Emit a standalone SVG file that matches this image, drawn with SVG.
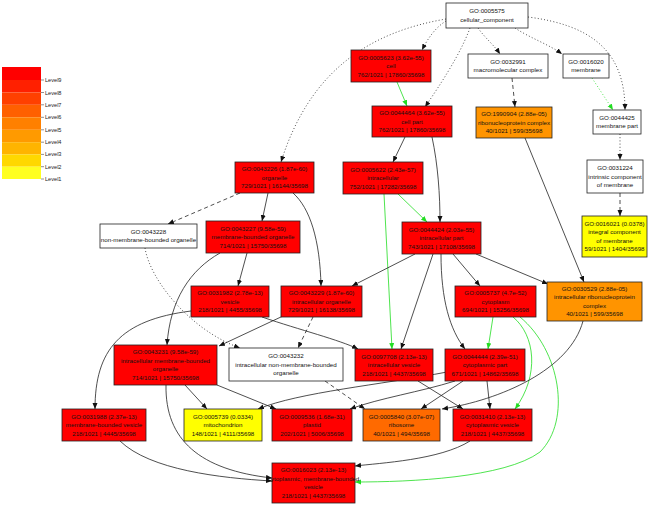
<svg xmlns="http://www.w3.org/2000/svg" width="659" height="507" viewBox="0 0 659 507">
<style>
text{font-family:"Liberation Sans",Arial,sans-serif;font-size:6.2px;fill:#111;text-anchor:middle}
.lg{text-anchor:start;font-size:5.6px;fill:#222}
rect.n{stroke:#222;stroke-width:0.8}
.w{fill:#fff}.r{fill:#ff0000}.o{fill:#ff9400}.o7{fill:#ff6a00}.y{fill:#ffff00}
.e{fill:none;stroke:#222;stroke-width:0.8;marker-end:url(#ab)}
.dt{stroke-dasharray:1 2.2}
.ds{stroke-dasharray:4 3}
.g{fill:none;stroke:#22dd22;stroke-width:0.8;marker-end:url(#ag)}
</style>
<defs>
<marker id="ab" markerUnits="userSpaceOnUse" markerWidth="7" markerHeight="6" refX="6" refY="2.5" orient="auto"><path d="M0,0 L6,2.5 L0,5 z" fill="#111"/></marker>
<marker id="ag" markerUnits="userSpaceOnUse" markerWidth="7" markerHeight="6" refX="6" refY="2.5" orient="auto"><path d="M0,0 L6,2.5 L0,5 z" fill="#22dd22"/></marker>
</defs>
<rect width="659" height="507" fill="#fff"/>
<g id="legend">
<rect x="2" y="67" width="39" height="13" fill="#ff0000"/>
<rect x="2" y="80" width="39" height="12.5" fill="#ff2000"/>
<rect x="2" y="92.5" width="39" height="12.3" fill="#ff4000"/>
<rect x="2" y="104.8" width="39" height="12.5" fill="#ff6000"/>
<rect x="2" y="117.3" width="39" height="12.5" fill="#ff8000"/>
<rect x="2" y="129.8" width="39" height="12.4" fill="#ff9a00"/>
<rect x="2" y="142.2" width="39" height="12.2" fill="#ffb400"/>
<rect x="2" y="154.4" width="39" height="12.3" fill="#ffd800"/>
<rect x="2" y="166.7" width="39" height="12.3" fill="#ffff20"/>
<path d="M41,80H44M41,92.5H44M41,104.8H44M41,117.3H44M41,129.8H44M41,142.2H44M41,154.4H44M41,166.7H44M41,179H44" stroke="#444" stroke-width="0.6"/>
<text class="lg" x="45" y="82">Level9</text>
<text class="lg" x="45" y="94.5">Level8</text>
<text class="lg" x="45" y="106.8">Level7</text>
<text class="lg" x="45" y="119.3">Level6</text>
<text class="lg" x="45" y="131.8">Level5</text>
<text class="lg" x="45" y="144.2">Level4</text>
<text class="lg" x="45" y="156.4">Level3</text>
<text class="lg" x="45" y="168.7">Level2</text>
<text class="lg" x="45" y="181">Level1</text>
</g>
<g id="edges">
<path class="e dt" d="M446,21 C436,27 428,38 422,50"/>
<path class="e dt" d="M446,19 C370,32 310,70 281,162"/>
<path class="e dt" d="M470,28 C460,55 440,85 425,107"/>
<path class="e dt" d="M478,28 C485,38 494,45 500,54"/>
<path class="e dt" d="M515,28 C530,38 550,45 562,54"/>
<path class="e dt" d="M528,17 C590,25 625,50 625,110"/>
<path class="e dt" d="M620,134 L620,160"/>
<path class="e ds" d="M620,193 L620,216"/>
<path class="e dt" d="M145,248 C150,280 190,330 240,348"/>
<path class="e ds" d="M512,78 L515,107"/>
<path class="e ds" d="M240,193 L168,224"/>
<path class="e ds" d="M313,317 L298,348"/>
<path class="e ds" d="M325,381 L365,409"/>
<path class="g dt" d="M592,78 L613,110"/>
<path class="g" d="M397,82 L407,106"/>
<path class="g" d="M398,194 L427,222"/>
<path class="g" d="M384,194 L392,349"/>
<path class="g" d="M493,317 L488,349"/>
<path class="g" d="M513,317 C535,335 540,375 515,409"/>
<path class="g" d="M520,317 C560,350 572,420 540,452 C505,478 410,482 355,482"/>
<path class="e" d="M405,137 L393,162"/>
<path class="e" d="M432,137 C438,165 440,195 440,222"/>
<path class="e" d="M268,193 L262,221"/>
<path class="e" d="M293,193 C310,208 320,240 321,286"/>
<path class="e" d="M415,254 L352,286"/>
<path class="e" d="M433,254 L401,349"/>
<path class="e" d="M441,254 C441,300 450,330 465,349"/>
<path class="e" d="M453,254 L480,286"/>
<path class="e" d="M476,254 L548,284"/>
<path class="e" d="M525,138 L584,282"/>
<path class="e" d="M247,253 L238,286"/>
<path class="e" d="M220,253 C190,270 170,300 167,345"/>
<path class="e" d="M191,311 C120,320 95,350 95,409"/>
<path class="e" d="M262,317 C300,330 340,340 358,349"/>
<path class="e" d="M283,316 L219,346"/>
<path class="e" d="M185,385 L207,409"/>
<path class="e" d="M217,385 L276,409"/>
<path class="e" d="M166,385 C165,440 200,470 272,478"/>
<path class="e" d="M120,441 C150,470 220,478 272,481"/>
<path class="e" d="M447,372 C380,385 300,392 258,409"/>
<path class="e" d="M455,381 C420,392 380,398 350,409"/>
<path class="e" d="M463,381 L421,409"/>
<path class="e" d="M487,381 L490,409"/>
<path class="e" d="M418,381 L463,409"/>
<path class="e" d="M583,321 C570,370 500,400 442,409"/>
<path class="e" d="M470,441 C440,460 380,463 355,466"/>
</g>
<g id="n0005575"><rect class="n w" x="446" y="3" width="82" height="25"/><text x="487" y="13.45">GO:0005575</text><text x="487" y="21.95">cellular_component</text></g>
<g id="n0005623"><rect class="n r" x="351" y="50" width="80" height="32"/><text x="391" y="59.7">GO:0005623 (3.62e-55)</text><text x="391" y="68.2">cell</text><text x="391" y="76.7">762/1021 | 17860/35698</text></g>
<g id="n0032991"><rect class="n w" x="468" y="54" width="80" height="24"/><text x="508" y="63.95">GO:0032991</text><text x="508" y="72.45">macromolecular complex</text></g>
<g id="n0016020"><rect class="n w" x="563" y="54" width="46" height="24"/><text x="586" y="63.95">GO:0016020</text><text x="586" y="72.45">membrane</text></g>
<g id="n0044464"><rect class="n r" x="372" y="106" width="80" height="31"/><text x="412" y="115.2">GO:0044464 (3.62e-55)</text><text x="412" y="123.7">cell part</text><text x="412" y="132.2">762/1021 | 17860/35698</text></g>
<g id="n1990904"><rect class="n o" x="476" y="107" width="76" height="31"/><text x="514" y="116.2">GO:1990904 (2.88e-05)</text><text x="514" y="124.7">ribonucleoprotein complex</text><text x="514" y="133.2">40/1021 | 599/35698</text></g>
<g id="n0044425"><rect class="n w" x="593" y="110" width="48" height="24"/><text x="617" y="119.95">GO:0044425</text><text x="617" y="128.45">membrane part</text></g>
<g id="n0031224"><rect class="n w" x="587" y="160" width="56" height="33"/><text x="615" y="170.2">GO:0031224</text><text x="615" y="178.7">intrinsic component</text><text x="615" y="187.2">of membrane</text></g>
<g id="n0016021"><rect class="n y" x="582" y="216" width="65" height="41"/><text x="614.5" y="225.95">GO:0016021 (0.0378)</text><text x="614.5" y="234.45">integral component</text><text x="614.5" y="242.95">of membrane</text><text x="614.5" y="251.45">59/1021 | 1404/35698</text></g>
<g id="n0043226"><rect class="n r" x="235" y="162" width="79" height="31"/><text x="274.5" y="171.2">GO:0043226 (1.87e-60)</text><text x="274.5" y="179.7">organelle</text><text x="274.5" y="188.2">729/1021 | 16144/35698</text></g>
<g id="n0005622"><rect class="n r" x="343" y="162" width="80" height="32"/><text x="383" y="171.7">GO:0005622 (2.43e-57)</text><text x="383" y="180.2">intracellular</text><text x="383" y="188.7">752/1021 | 17282/35698</text></g>
<g id="n0043228"><rect class="n w" x="100" y="224" width="97" height="24"/><text x="148.5" y="233.95">GO:0043228</text><text x="148.5" y="242.45">non-membrane-bounded organelle</text></g>
<g id="n0043227"><rect class="n r" x="206" y="221" width="94" height="32"/><text x="253" y="230.7">GO:0043227 (9.58e-59)</text><text x="253" y="239.2">membrane-bounded organelle</text><text x="253" y="247.7">714/1021 | 15750/35698</text></g>
<g id="n0044424"><rect class="n r" x="402" y="222" width="79" height="32"/><text x="441.5" y="231.7">GO:0044424 (2.03e-55)</text><text x="441.5" y="240.2">intracellular part</text><text x="441.5" y="248.7">743/1021 | 17108/35698</text></g>
<g id="n0031982"><rect class="n r" x="191" y="286" width="78" height="31"/><text x="230" y="295.2">GO:0031982 (2.78e-13)</text><text x="230" y="303.7">vesicle</text><text x="230" y="312.2">218/1021 | 4455/35698</text></g>
<g id="n0043229"><rect class="n r" x="281" y="286" width="81" height="31"/><text x="321.5" y="295.2">GO:0043229 (1.87e-60)</text><text x="321.5" y="303.7">intracellular organelle</text><text x="321.5" y="312.2">729/1021 | 16138/35698</text></g>
<g id="n0005737"><rect class="n r" x="455" y="286" width="81" height="31"/><text x="495.5" y="295.2">GO:0005737 (4.7e-52)</text><text x="495.5" y="303.7">cytoplasm</text><text x="495.5" y="312.2">694/1021 | 15256/35698</text></g>
<g id="n0030529"><rect class="n o" x="547" y="282" width="95" height="39"/><text x="594.5" y="290.95">GO:0030529 (2.88e-05)</text><text x="594.5" y="299.45">intracellular ribonucleoprotein</text><text x="594.5" y="307.95">complex</text><text x="594.5" y="316.45">40/1021 | 599/35698</text></g>
<g id="n0043231"><rect class="n r" x="114" y="345" width="103" height="40"/><text x="165.5" y="354.45">GO:0043231 (9.58e-59)</text><text x="165.5" y="362.95">intracellular membrane-bounded</text><text x="165.5" y="371.45">organelle</text><text x="165.5" y="379.95">714/1021 | 15750/35698</text></g>
<g id="n0043232"><rect class="n w" x="229" y="348" width="114" height="33"/><text x="286" y="358.2">GO:0043232</text><text x="286" y="366.7">intracellular non-membrane-bounded</text><text x="286" y="375.2">organelle</text></g>
<g id="n0097708"><rect class="n r" x="355" y="349" width="78" height="32"/><text x="394" y="358.7">GO:0097708 (2.13e-13)</text><text x="394" y="367.2">intracellular vesicle</text><text x="394" y="375.7">218/1021 | 4437/35698</text></g>
<g id="n0044444"><rect class="n r" x="445" y="349" width="80" height="32"/><text x="485" y="358.7">GO:0044444 (2.39e-51)</text><text x="485" y="367.2">cytoplasmic part</text><text x="485" y="375.7">671/1021 | 14862/35698</text></g>
<g id="n0031988"><rect class="n r" x="62" y="409" width="84" height="32"/><text x="104" y="418.7">GO:0031988 (2.37e-13)</text><text x="104" y="427.2">membrane-bounded vesicle</text><text x="104" y="435.7">218/1021 | 4445/35698</text></g>
<g id="n0005739"><rect class="n y" x="184" y="409" width="78" height="32"/><text x="223" y="418.7">GO:0005739 (0.0334)</text><text x="223" y="427.2">mitochondrion</text><text x="223" y="435.7">148/1021 | 4111/35698</text></g>
<g id="n0009536"><rect class="n r" x="272" y="409" width="80" height="32"/><text x="312" y="418.7">GO:0009536 (1.68e-31)</text><text x="312" y="427.2">plastid</text><text x="312" y="435.7">202/1021 | 5006/35698</text></g>
<g id="n0005840"><rect class="n o7" x="363" y="409" width="77" height="32"/><text x="401.5" y="418.7">GO:0005840 (3.07e-07)</text><text x="401.5" y="427.2">ribosome</text><text x="401.5" y="435.7">40/1021 | 494/35698</text></g>
<g id="n0031410"><rect class="n r" x="453" y="409" width="79" height="32"/><text x="492.5" y="418.7">GO:0031410 (2.13e-13)</text><text x="492.5" y="427.2">cytoplasmic vesicle</text><text x="492.5" y="435.7">218/1021 | 4437/35698</text></g>
<g id="n0016023"><rect class="n r" x="272" y="463" width="83" height="40"/><text x="313.5" y="472.45">GO:0016023 (2.13e-13)</text><text x="313.5" y="480.95">cytoplasmic, membrane-bounded</text><text x="313.5" y="489.45">vesicle</text><text x="313.5" y="497.95">218/1021 | 4437/35698</text></g>
</svg>
